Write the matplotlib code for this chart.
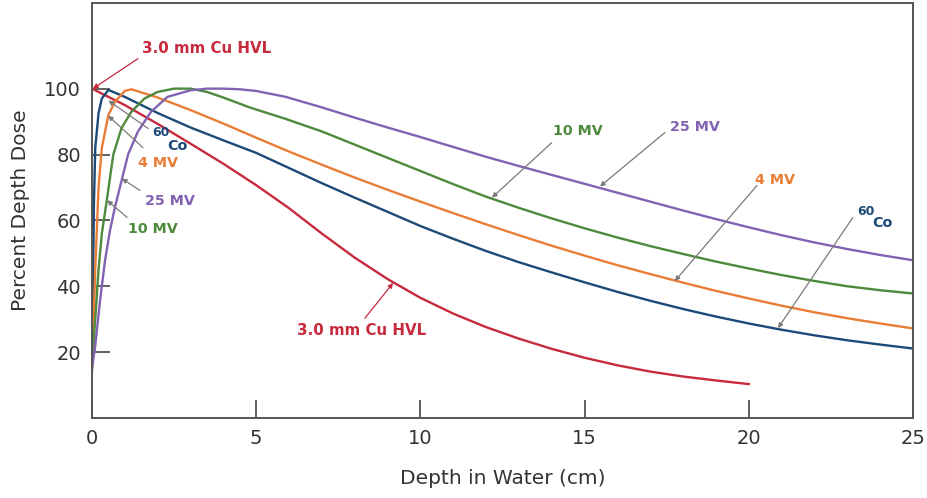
import matplotlib.pyplot as plt

# depth (cm) and percent depth dose
cu_depth = [0, 1, 2, 3, 4, 5, 6, 7, 8, 9, 10, 11, 12, 13, 14, 15, 16, 17, 18, 19, 20]
cu_dose = [100, 95, 89.3, 83.3, 77.2, 70.7, 63.7, 56, 48.7, 42.2, 36.5, 31.7, 27.6, 24.1, 21, 18.3,
           16, 14.1, 12.6, 11.4, 10.3]

co_depth = [0, 0.03, 0.06, 0.1, 0.2, 0.3, 0.5, 1, 2, 3, 4, 5, 6, 7, 8, 9, 10, 11, 12, 13, 14,
            15, 16, 17, 18, 19, 20, 21, 22, 23, 24, 25]
co_dose = [15, 40, 65, 82, 92.5, 97, 99.6, 97.5, 92.6, 88.2, 84.3, 80.5, 75.9, 71.3, 66.9, 62.6,
           58.3, 54.4, 50.7, 47.3, 44.2, 41.2, 38.3, 35.6, 33.1, 30.8, 28.7, 26.8, 25.1, 23.6,
           22.3, 21.1]

mv4_depth = [0, 0.1, 0.2, 0.3, 0.5, 0.7, 1, 1.2, 2, 3, 4, 5, 6, 7, 8, 9, 10, 11, 12, 13, 14,
             15, 16, 17, 18, 19, 20, 21, 22, 23, 24, 25]
mv4_dose = [14, 45, 70, 82, 92, 96, 99.3, 99.8, 97.3, 93.5, 89.4, 85.1, 80.9, 76.9, 73, 69.3,
            65.7, 62.2, 58.8, 55.5, 52.3, 49.3, 46.4, 43.7, 41.1, 38.6, 36.3, 34.1, 32.1, 30.3,
            28.7, 27.2]

mv10_depth = [0, 0.1, 0.2, 0.3, 0.45, 0.65, 0.9, 1.2, 1.6, 2, 2.5, 3, 3.5, 4, 4.8, 5.9, 7, 8, 9,
              10, 11, 12, 13, 14, 15, 16, 17, 18, 19, 20, 21, 22, 23, 24, 25]
mv10_dose = [16, 30, 45, 56, 66, 80, 88, 93, 97, 99, 100, 100, 99, 97.3, 94.3, 90.8, 87, 83, 79,
             75, 71, 67.2, 63.8, 60.6, 57.6, 54.8, 52.2, 49.8, 47.5, 45.4, 43.4, 41.6, 40, 38.8,
             37.8]

mv25_depth = [0, 0.1, 0.25, 0.4, 0.55, 0.7, 0.9, 1.1, 1.4, 1.8, 2.3, 3, 3.5, 4, 4.5, 5, 5.9, 7, 8,
              9, 10, 11, 12, 13, 14, 15, 16, 17, 18, 19, 20, 21, 22, 23, 24, 25]
mv25_dose = [15, 22, 36, 48, 57, 64, 72, 80, 87, 93, 97.5, 99.5, 100, 100, 99.8, 99.3, 97.5, 94.3,
             91.2, 88.2, 85.3, 82.3, 79.3, 76.5, 73.8, 71.1, 68.4, 65.7, 63, 60.4, 57.9, 55.5,
             53.3, 51.3, 49.5, 47.9]

red = '#c62a3c'
blue = '#1b4a78'
orange = '#ea7d36'
green = '#4d8a3b'
purple = '#8262b2'
pointer = '#7a7a7a'

fig = plt.figure(figsize=(9.28, 4.98), dpi=100)
ax = fig.add_axes([0.0991, 0.1606, 0.8847, 0.8334])

ax.plot(cu_depth, cu_dose, color=red, lw=1.7)
ax.plot(co_depth, co_dose, color=blue, lw=1.7)
ax.plot(mv4_depth, mv4_dose, color=orange, lw=1.7)
ax.plot(mv10_depth, mv10_dose, color=green, lw=1.7)
ax.plot(mv25_depth, mv25_dose, color=purple, lw=1.7)

ax.set_xlim(0, 25)
ax.set_ylim(0, 126)
ax.set_xticks([0, 5, 10, 15, 20, 25])
ax.set_yticks([20, 40, 60, 80, 100])
ax.tick_params(direction='in', length=13, width=1.3, color='#555555',
               labelsize=14, labelcolor='#333333', pad=8)
for s in ax.spines.values():
    s.set_color('#555555')
    s.set_linewidth(1.4)

ax.set_xlabel('Depth in Water (cm)', fontsize=14.5, color='#333333', labelpad=15)
ax.set_ylabel('Percent Depth Dose', fontsize=14.5, color='#333333', labelpad=10)


def label(x, y, txt, col, size=10.3):
    ax.text(x, y, txt, color=col, fontsize=size, fontweight='bold', ha='left', va='center')


def arrow(tail, tip, col=pointer):
    ax.annotate('', xy=tip, xytext=tail,
                arrowprops=dict(arrowstyle='-|>', color=col, lw=0.9, mutation_scale=7,
                                shrinkA=0, shrinkB=0))


# labels near the surface
label(1.52, 112.1, '3.0 mm Cu HVL', red, 10.8)
arrow((1.40, 109.1), (0.03, 100), red)
label(1.83, 86.6, '60', blue, 9)
label(2.28, 82.7, 'Co', blue)
arrow((1.71, 87.9), (0.5, 96.4))
label(1.40, 77.4, '4 MV', orange)
arrow((1.55, 82.1), (0.49, 91.8))
label(1.61, 65.8, '25 MV', purple)
arrow((1.46, 69.1), (0.91, 72.7))
label(1.10, 57.3, '10 MV', green)
arrow((1.07, 60.9), (0.46, 66.1))

# labels at depth
label(14.04, 87.0, '10 MV', green)
arrow((14.0, 83.6), (12.18, 66.9))
label(17.6, 88.3, '25 MV', purple)
arrow((17.45, 86.7), (15.47, 70.3))
label(20.19, 72.4, '4 MV', orange)
arrow((20.25, 70.6), (17.75, 41.6))
label(23.3, 62.7, '60', blue, 9)
label(23.75, 59.2, 'Co', blue)
arrow((23.17, 60.9), (20.89, 27.3))
label(6.24, 26.7, '3.0 mm Cu HVL', red, 10.8)
arrow((8.31, 30.3), (9.17, 41.0), red)

fig.savefig('out.png', dpi=100)
